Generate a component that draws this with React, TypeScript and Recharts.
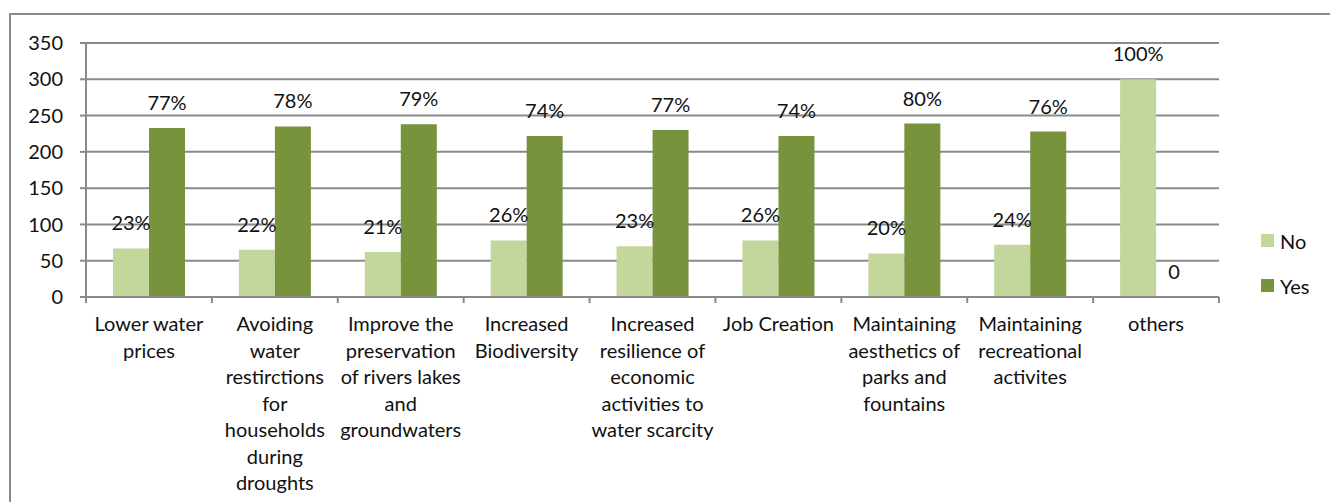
import React from 'react';
import { BarChart, Bar, XAxis, YAxis, CartesianGrid, LabelList } from 'recharts';

const categories = [
  'Lower water\nprices',
  'Avoiding\nwater\nrestirctions\nfor\nhouseholds\nduring\ndroughts',
  'Improve the\npreservation\nof rivers lakes\nand\ngroundwaters',
  'Increased\nBiodiversity',
  'Increased\nresilience of\neconomic\nactivities to\nwater scarcity',
  'Job Creation',
  'Maintaining\naesthetics of\nparks and\nfountains',
  'Maintaining\nrecreational\nactivites',
  'others',
];
const noValues = [67, 65, 62, 78, 70, 78, 60, 72, 300];
const yesValues = [233, 235, 238, 222, 230, 222, 239, 228, 0];
const noLabels = ['23%', '22%', '21%', '26%', '23%', '26%', '20%', '24%', '100%'];
const yesLabels = ['77%', '78%', '79%', '74%', '77%', '74%', '80%', '76%', '0'];
const yTicks = [0, 50, 100, 150, 200, 250, 300, 350];

const data = categories.map((cat, i) => ({
  cat,
  No: noValues[i],
  Yes: yesValues[i],
  noLabel: noLabels[i],
  yesLabel: yesLabels[i],
}));

const W = 1330;
const H = 502;
const PLOT_LEFT = 86;
const PLOT_RIGHT = 1219;
const BAND = (PLOT_RIGHT - PLOT_LEFT) / categories.length;
const FONT = 'Lato, "Open Sans", sans-serif';
const FS = 20;
const LABEL_GAP = 18;
const GRID = '#8a8a8a';
const LIGHT = '#c3d69b';
const DARK = '#77933c';

// wrapped category text plus the boundary tick marks Excel draws between groups
const CategoryTick = (props: any) => {
  const { x, y, payload, index } = props;
  const lines = String(payload.value).split('\n');
  const left = x - BAND / 2;
  return (
    <g>
      <line x1={left} x2={left} y1={y} y2={y + 6} stroke={GRID} strokeWidth={2} />
      {index === categories.length - 1 && (
        <line x1={left + BAND} x2={left + BAND} y1={y} y2={y + 6} stroke={GRID} strokeWidth={2} />
      )}
      <text textAnchor="middle" fontFamily={FONT} fontSize={FS} fill="#111">
        {lines.map((l, i) => (
          <tspan key={i} x={x} y={y + 34 + i * 26.5}>
            {l}
          </tspan>
        ))}
      </text>
    </g>
  );
};

const ValueText = ({ x, y, children }: { x: number; y: number; children: React.ReactNode }) => (
  <text x={x} y={y} textAnchor="middle" fontFamily={FONT} fontSize={FS} fill="#111">
    {children}
  </text>
);

// "No" labels; a zero "Yes" bar has no rectangle of its own, so its label
// is placed beside the No bar, on the shared baseline
const NoLabel = (props: any) => {
  const { x, y, width, height, value, index } = props;
  const row = data[index];
  return (
    <g>
      <ValueText x={x + width / 2} y={y - LABEL_GAP}>{value}</ValueText>
      {row && row.Yes === 0 && (
        <ValueText x={x + width * 1.5} y={y + height - LABEL_GAP}>{row.yesLabel}</ValueText>
      )}
    </g>
  );
};

const YesLabel = (props: any) => {
  const { x, y, width, value, index } = props;
  if (data[index] && data[index].Yes === 0) return null;
  return <ValueText x={x + width / 2} y={y - LABEL_GAP}>{value}</ValueText>;
};

const legendItems = [
  { name: 'No', color: LIGHT },
  { name: 'Yes', color: DARK },
];

export default function App() {
  return (
    <div style={{ position: 'absolute', left: 0, top: 0, width: W, height: H, background: '#fff' }}>
      <div
        style={{
          position: 'absolute',
          left: 9,
          top: 13,
          right: 0,
          bottom: 0,
          borderTop: `2px solid ${GRID}`,
          borderLeft: `2px solid ${GRID}`,
        }}
      />
      <div style={{ position: 'absolute', left: 0, top: 0 }}>
        <BarChart
          width={W}
          height={H}
          data={data}
          margin={{ top: 43, right: W - PLOT_RIGHT, bottom: 0, left: 0 }}
          barGap={0}
        >
          <CartesianGrid vertical={false} stroke={GRID} strokeWidth={2} />
          <XAxis
            dataKey="cat"
            height={205}
            interval={0}
            axisLine={{ stroke: GRID, strokeWidth: 2 }}
            tickLine={false}
            tickSize={0}
            tickMargin={0}
            tick={<CategoryTick />}
          />
          <YAxis
            width={PLOT_LEFT}
            domain={[0, 350]}
            ticks={yTicks}
            interval={0}
            axisLine={{ stroke: GRID, strokeWidth: 2 }}
            tickLine={{ stroke: GRID, strokeWidth: 2 }}
            tickSize={6}
            tickMargin={17}
            tick={{ fontFamily: FONT, fontSize: FS, fill: '#111' }}
          />
          <Bar dataKey="No" fill={LIGHT} barSize={36} isAnimationActive={false}>
            <LabelList dataKey="noLabel" content={<NoLabel />} />
          </Bar>
          <Bar dataKey="Yes" fill={DARK} barSize={36} isAnimationActive={false}>
            <LabelList dataKey="yesLabel" content={<YesLabel />} />
          </Bar>
        </BarChart>
      </div>
      <div style={{ position: 'absolute', left: 1261, top: 218, fontFamily: FONT, fontSize: FS, color: '#111' }}>
        {legendItems.map((it) => (
          <div key={it.name} style={{ display: 'flex', alignItems: 'center', height: 45 }}>
            <span style={{ width: 13, height: 13, background: it.color, marginRight: 6 }} />
            <span>{it.name}</span>
          </div>
        ))}
      </div>
    </div>
  );
}
